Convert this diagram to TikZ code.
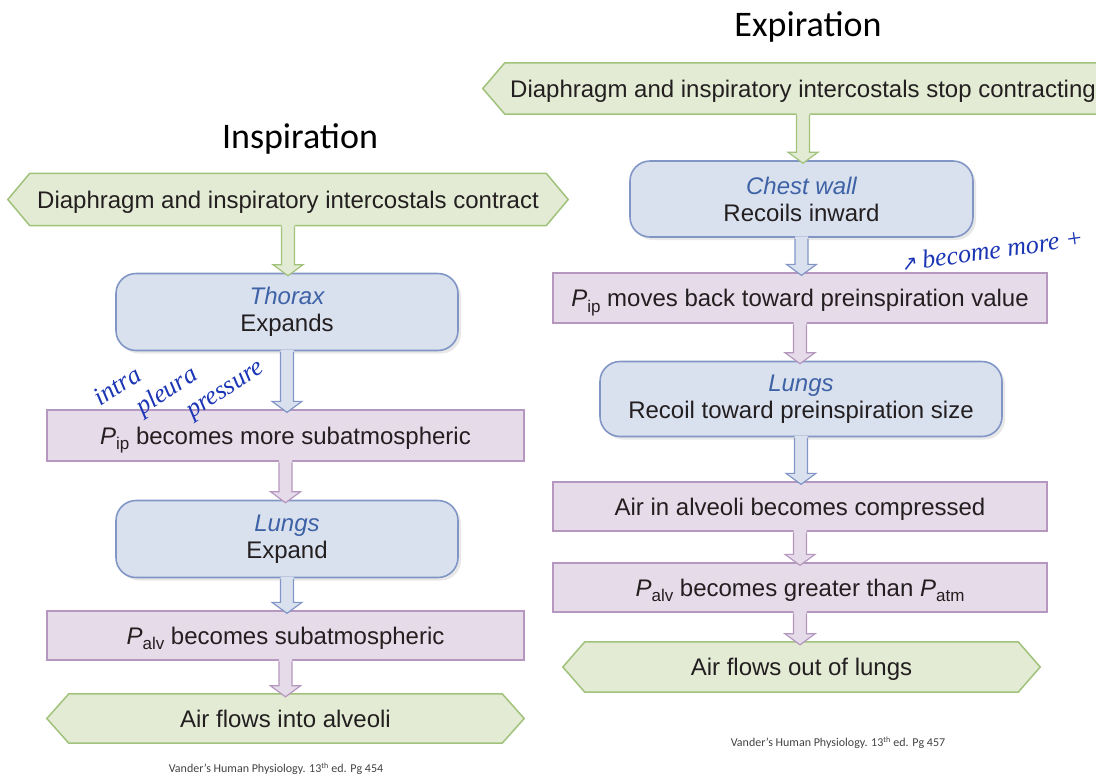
\documentclass[tikz,border=0pt]{standalone}
\usepackage{fontspec}
\setmainfont{Liberation Sans}
\newfontfamily\calib{Carlito}
\newfontfamily\hand{Liberation Serif}
\newfontfamily\djv{DejaVu Sans}
\usetikzlibrary{shadows,backgrounds,calc}
\definecolor{gfill}{HTML}{E3EBD4}
\definecolor{gline}{HTML}{A0C27A}
\definecolor{bfill}{HTML}{D9E0EE}
\definecolor{bline}{HTML}{8296C6}
\definecolor{pfill}{HTML}{E6DBE9}
\definecolor{pline}{HTML}{B597BF}
\definecolor{itblue}{HTML}{3E62A6}
\definecolor{txt}{HTML}{231F20}
\definecolor{ink}{HTML}{1B36B5}
\newcommand{\sbs}[1]{\raisebox{-0.45ex}{\fontsize{17}{17}\selectfont #1}}
\newcommand{\hexa}[1]{\draw[hexline] (#1.west) -- ([xshift=22pt]#1.north west) -- ([xshift=-22pt]#1.north east) -- (#1.east) -- ([xshift=-22pt]#1.south east) -- ([xshift=22pt]#1.south west) -- cycle;}
\newcommand{\barrow}[4]{%
 \fill[#1] let \p1=(#3.south), \p2=(#4.north) in (\x1-6.5pt,\y1+1.5pt) -- (\x1-6.5pt,\y2+8pt) -- (\x1-15pt,\y2+8pt) -- (\x1,\y2-3pt) -- (\x1+15pt,\y2+8pt) -- (\x1+6.5pt,\y2+8pt) -- (\x1+6.5pt,\y1+1.5pt) -- cycle;
 \draw[#2,line width=1.2pt,line join=miter] let \p1=(#3.south), \p2=(#4.north) in (\x1-6.5pt,\y1-0.7pt) -- (\x1-6.5pt,\y2+8pt) -- (\x1-15pt,\y2+8pt) -- (\x1,\y2-3pt) -- (\x1+15pt,\y2+8pt) -- (\x1+6.5pt,\y2+8pt) -- (\x1+6.5pt,\y1-0.7pt);}
\tikzset{
 base/.style={font=\fontsize{24}{27}\selectfont, text=txt, inner sep=0pt, align=center},
 oneline/.style={text height=20pt, text depth=3pt},
 rbox/.style={base, draw=bline, fill=bfill, rounded corners=20pt, line width=1.6pt, minimum width=342pt, minimum height=77pt,
   drop shadow={shadow xshift=3pt, shadow yshift=-3pt, opacity=0.18}},
 pbox/.style={base, oneline, draw=pline, fill=pfill, line width=1.3pt},
 hexnode/.style={base, oneline},
 hexline/.style={draw=gline, fill=gfill, line width=1.5pt, line join=miter},
 title/.style={font=\calib\fontsize{36}{40}\selectfont, text=black, inner sep=0pt},
 cite/.style={font=\calib\fontsize{12}{14}\selectfont, text=txt!85, inner sep=0pt},
 handw/.style={font=\hand\itshape\fontsize{26}{30}\selectfont, text=ink, inner sep=0pt},
}
\begin{document}
\begin{tikzpicture}[x=1pt,y=-1pt]
\useasboundingbox (0,0) rectangle (1096,782);
% titles
\node[title] (tin) at (300,139) {Inspiration};
\node[title] (tex) at (808,27) {Expiration};
% left column
\node[hexnode, minimum width=560pt, minimum height=52pt] (l1) at (288,199.5) {Diaphragm and inspiratory intercostals contract};
\node[rbox] (l2) at (287,312) {{\color{itblue}\itshape Thorax}\\Expands};
\node[pbox, minimum width=477pt, minimum height=51pt] (l3) at (285.5,435.5) {\textit{P}\sbs{ip} becomes more subatmospheric};
\node[rbox] (l4) at (287,539) {{\color{itblue}\itshape Lungs}\\Expand};
\node[pbox, minimum width=477pt, minimum height=49pt] (l5) at (285.5,635.5) {\textit{P}\sbs{alv} becomes subatmospheric};
\node[hexnode, minimum width=477pt, minimum height=49pt] (l6) at (285.5,718.5) {Air flows into alveoli};
% right column
\node[hexnode, minimum width=640pt, minimum height=51pt] (r1) at (803,88.5) {Diaphragm and inspiratory intercostals stop contracting};
\node[rbox, minimum width=343pt, minimum height=76pt] (r2) at (801.5,199) {{\color{itblue}\itshape Chest wall}\\Recoils inward};
\node[pbox, minimum width=494pt, minimum height=50pt] (r3) at (800,298) {\textit{P}\sbs{ip} moves back toward preinspiration value};
\node[rbox, minimum width=402pt, minimum height=75pt] (r4) at (801,399) {{\color{itblue}\itshape Lungs}\\Recoil toward preinspiration size};
\node[pbox, minimum width=494pt, minimum height=49pt] (r5) at (800,506.5) {Air in alveoli becomes compressed};
\node[pbox, minimum width=494pt, minimum height=49pt] (r6) at (800,587.5) {\textit{P}\sbs{alv} becomes greater than \textit{P}\sbs{atm}};
\node[hexnode, minimum width=477pt, minimum height=50pt] (r7) at (801.5,667) {Air flows out of lungs};
\begin{pgfonlayer}{background}
\hexa{l1}\hexa{l6}\hexa{r1}\hexa{r7}
\end{pgfonlayer}
% arrows
\barrow{gfill}{gline}{l1}{l2}
\barrow{bfill}{bline}{l2}{l3}
\barrow{pfill}{pline}{l3}{l4}
\barrow{bfill}{bline}{l4}{l5}
\barrow{pfill}{pline}{l5}{l6}
\barrow{gfill}{gline}{r1}{r2}
\barrow{bfill}{bline}{r2}{r3}
\barrow{pfill}{pline}{r3}{r4}
\barrow{bfill}{bline}{r4}{r5}
\barrow{pfill}{pline}{r5}{r6}
\barrow{pfill}{pline}{r6}{r7}
% handwriting
\node[handw, rotate=33, align=left] (h1) at (180,384) {intra\\\hspace*{30pt}pleura\\\hspace*{70pt}pressure};
\node[handw, rotate=8] (h4) at (992,250) {{\djv\fontsize{20}{20}\selectfont ↗}\,become more +};
% citations
\node[cite] (c1) at (276,769) {Vander’s Human Physiology. 13\textsuperscript{th} ed. Pg 454};
\node[cite] (c2) at (838,743) {Vander’s Human Physiology. 13\textsuperscript{th} ed. Pg 457};
\end{tikzpicture}
\end{document}
